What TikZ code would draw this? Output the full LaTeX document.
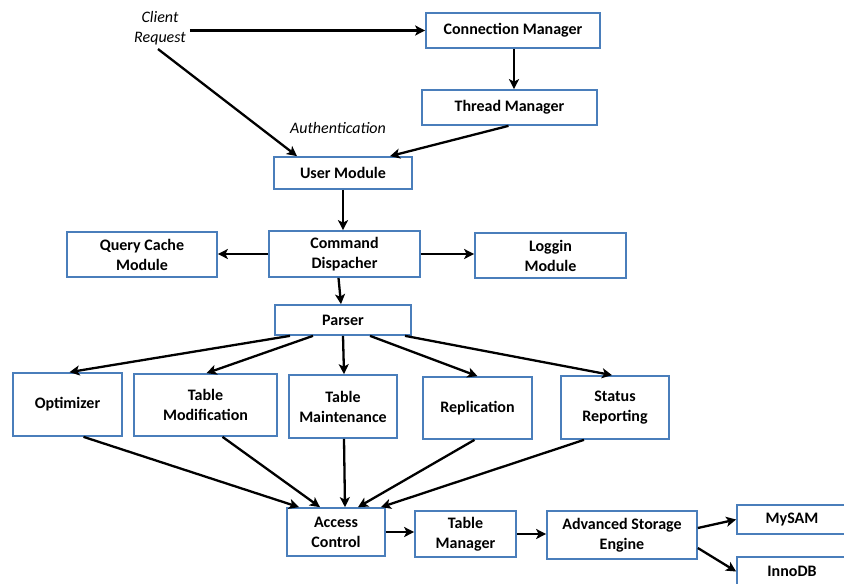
\documentclass[tikz,border=0pt]{standalone}
\usepackage{fontspec}
\setmainfont{Carlito}
\usetikzlibrary{arrows.meta}
\definecolor{boxline}{HTML}{4A7EBB}
\begin{document}
\begin{tikzpicture}[x=1pt,y=-1pt,
  box/.style={draw=boxline, line width=1.7pt, fill=white, align=center,
    font=\fontsize{16}{20}\selectfont\bfseries, inner sep=0pt},
  lbl/.style={align=center, font=\fontsize{16}{20}\selectfont\itshape, inner sep=1pt},
  arr/.style={-{Stealth[length=10pt,width=10pt,inset=2.5pt]}, line width=2.3pt, black},
]
\useasboundingbox (0,0) rectangle (844,584);
\fill[white] (0,0) rectangle (844,584);

% request handling
\node[lbl, inner sep=4pt] (cr) at (160,28) {Client\\Request};
\node[lbl] (auth) at (338,128) {Authentication};
\node[box, minimum width=174pt, minimum height=35pt] (cm) at (513,30.5) {Connection Manager};
\node[box, minimum width=175pt, minimum height=35pt] (tm) at (509.5,107.5) {Thread Manager};
\node[box, minimum width=138pt, minimum height=32pt] (um) at (343,173) {User Module};

% dispatching
\node[box, minimum width=150pt, minimum height=45pt] (qc) at (142,254.5) {Query Cache\\Module};
\node[box, minimum width=151pt, minimum height=46pt] (cd) at (344.5,254) {Command\\Dispacher};
\node[box, minimum width=151pt, minimum height=45pt] (lm) at (550.5,255.5) {Loggin\\Module};
\node[box, minimum width=136pt, minimum height=30pt] (pa) at (343,320) {Parser};

% query processing modules
\node[box, minimum width=109pt, minimum height=63pt] (op) at (67.5,404.5) {Optimizer};
\node[box, minimum width=143pt, minimum height=62pt] (tmod) at (205.5,405) {Table\\Modification};
\node[box, minimum width=108pt, minimum height=63pt] (tmai) at (343,406.5) {Table\\Maintenance};
\node[box, minimum width=109pt, minimum height=62pt] (rep) at (477.5,408) {Replication};
\node[box, minimum width=108pt, minimum height=63pt] (sr) at (615,407.5) {Status\\Reporting};

% storage layer
\node[box, minimum width=98pt, minimum height=48pt] (ac) at (336,532) {Access\\Control};
\node[box, minimum width=101pt, minimum height=46pt] (tman) at (465.5,534) {Table\\Manager};
\node[box, minimum width=150pt, minimum height=48pt] (ase) at (622,535) {Advanced Storage\\Engine};
\node[box, minimum width=110pt, minimum height=29pt] (my) at (792,519.5) {MySAM};
\node[box, minimum width=110pt, minimum height=29pt] (inno) at (792,571.5) {InnoDB};

% connectors
\draw[arr] (cr.east |- cm.west) -- (cm.west);
\draw[arr] ([xshift=-2pt]cr.south) -- ([xshift=-46pt]um.north);
\draw[arr] ([xshift=1pt]cm.south) -- ([xshift=1pt]cm.south |- tm.north);
\draw[arr] ([xshift=-1pt]tm.south) -- ([xshift=47pt]um.north);
\draw[arr] (um.south) -- (um.south |- cd.north);
\draw[arr] (cd.west) -- (cd.west -| qc.east);
\draw[arr] (cd.east) -- (cd.east -| lm.west);
\draw[arr] ([xshift=-6pt]cd.south) -- ([xshift=-2pt]pa.north);

\draw[arr] ([xshift=-53pt]pa.south) -- ([xshift=2pt]op.north);
\draw[arr] ([xshift=-30pt]pa.south) -- ([xshift=1pt]tmod.north);
\draw[arr] ([xshift=0pt]pa.south) -- ([xshift=1pt]tmai.north);
\draw[arr] ([xshift=27pt]pa.south) -- ([xshift=0pt]rep.north);
\draw[arr] ([xshift=62pt]pa.south) -- ([xshift=-3pt]sr.north);

\draw[arr] ([xshift=16pt]op.south) -- ([xshift=-37pt]ac.north);
\draw[arr] ([xshift=17pt]tmod.south) -- ([xshift=-16pt]ac.north);
\draw[arr] ([xshift=1pt]tmai.south) -- ([xshift=9pt]ac.north);
\draw[arr] ([xshift=-3pt]rep.south) -- ([xshift=22pt]ac.north);
\draw[arr] ([xshift=-31pt]sr.south) -- ([xshift=45pt]ac.north);

\draw[arr] (ac.east) -- (ac.east -| tman.west);
\draw[arr] (tman.east) -- (tman.east -| ase.west);
\draw[arr] ([yshift=7pt]ase.east) -- (my.west);
\draw[arr] ([yshift=-13pt]ase.east) -- (inno.west);
\end{tikzpicture}
\end{document}
